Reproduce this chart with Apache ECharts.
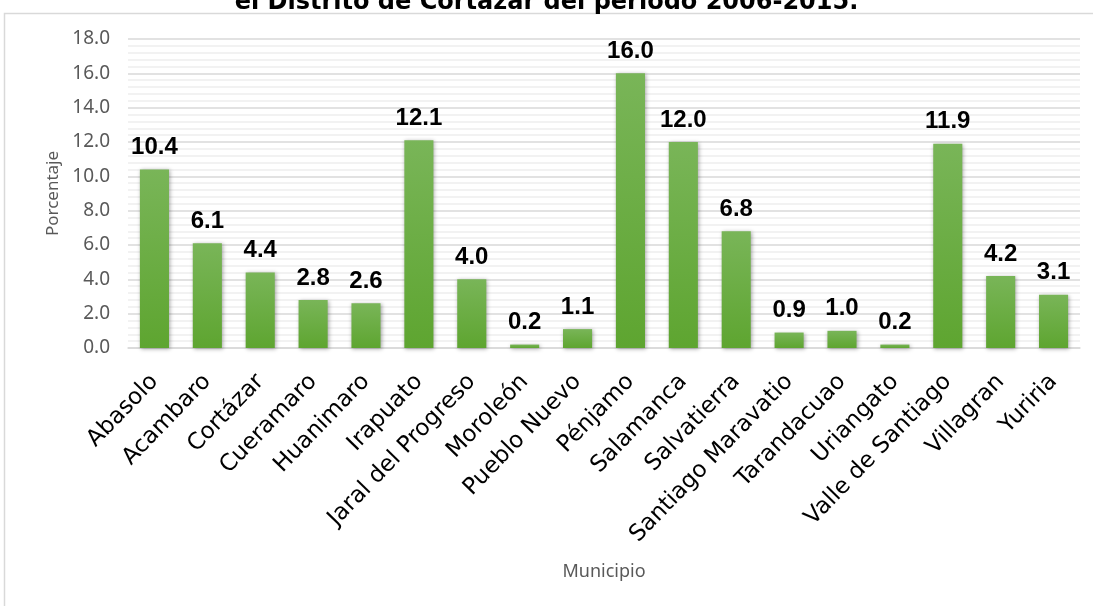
<!DOCTYPE html>
<html><head><meta charset="utf-8">
<script src="https://cdn.jsdelivr.net/npm/echarts@6/dist/echarts.min.js"></script>
<style>html,body{margin:0;padding:0;background:#fff}#c{width:1093px;height:606px}</style>
</head><body><div id="c"></div>
<script>
const categories = ["Abasolo","Acambaro","Cortázar","Cueramaro","Huanimaro","Irapuato","Jaral del Progreso","Moroleón","Pueblo Nuevo","Pénjamo","Salamanca","Salvatierra","Santiago Maravatio","Tarandacuao","Uriangato","Valle de Santiago","Villagran","Yuriria"];
const values = [10.4,6.1,4.4,2.8,2.6,12.1,4.0,0.2,1.1,16.0,12.0,6.8,0.9,1.0,0.2,11.9,4.2,3.1];
const titleText = "el Distrito de Cortázar del periodo 2006-2015.";
const yName = "Porcentaje";
const xName = "Municipio";

const chart = echarts.init(document.getElementById('c'));
chart.setOption({
  animation:false,
  title:{text:titleText,left:'center',top:-14,textStyle:{fontFamily:'DejaVu Sans',fontWeight:'bold',fontSize:24,color:'#000'}},
  graphic:[{type:'rect',shape:{x:4.5,y:13.5,width:1200,height:700},style:{fill:null,stroke:'#d9d9d9',lineWidth:1.5},silent:true,z:-1}],
  grid:{left:128,right:13,top:39,bottom:258},
  xAxis:{type:'category',data:categories,
    name:xName,nameLocation:'middle',nameGap:215,nameTextStyle:{fontFamily:'Noto Sans',fontSize:18,color:'#595959'},
    axisLine:{lineStyle:{color:'#d9d9d9',width:1.5}},axisTick:{show:false},
    axisLabel:{rotate:46,interval:0,fontFamily:'DejaVu Sans',fontSize:23,color:'#000',margin:30}},
  yAxis:{type:'value',min:0,max:18,interval:2,
    name:yName,nameLocation:'middle',nameGap:66,nameTextStyle:{fontFamily:'Noto Sans',fontSize:17,color:'#595959'},
    axisLabel:{formatter:v=>v.toFixed(1),fontFamily:'Noto Sans',fontSize:19,color:'#595959',margin:18},
    axisLine:{show:false},axisTick:{show:false},
    splitLine:{lineStyle:{color:'#d9d9d9',width:1.5}},
    minorTick:{show:false,splitNumber:5},
    minorSplitLine:{show:true,lineStyle:{color:'#eeeeee',width:1.5}}},
  series:[{type:'bar',data:values,barWidth:'55%',
    itemStyle:{color:new echarts.graphic.LinearGradient(0,0,0,1,[{offset:0,color:'#79b558'},{offset:1,color:'#5ea530'}]),
      shadowColor:'rgba(0,0,0,0.35)',shadowBlur:4,shadowOffsetX:1,shadowOffsetY:1},
    label:{show:true,position:'top',distance:10,formatter:p=>p.value.toFixed(1),fontFamily:'Liberation Sans',fontWeight:'bold',fontSize:24,color:'#000'}}]
});
</script></body></html>
